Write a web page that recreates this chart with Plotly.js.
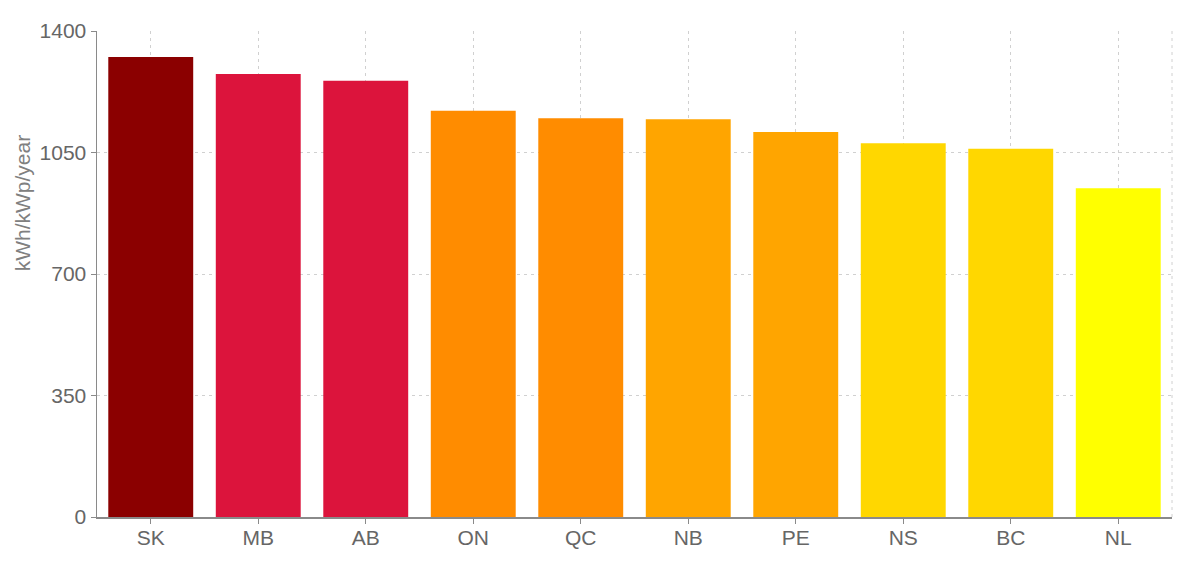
<!DOCTYPE html>
<html>
<head>
<meta charset="utf-8">
<script src="https://cdn.plot.ly/plotly-3.0.1.min.js"></script>
<style>html,body{margin:0;padding:0;background:#fff;}#chart{width:1200px;height:571px;}</style>
</head>
<body>
<div id="chart"></div>
<script>
const provinces = ["SK", "MB", "AB", "ON", "QC", "NB", "PE", "NS", "BC", "NL"];
const yieldValues = [1325, 1276, 1257, 1170, 1149, 1146, 1109, 1077, 1061, 947];
const barColors = ["#8B0000", "#DC143C", "#DC143C", "#FF8C00", "#FF8C00", "#FFA500", "#FFA500", "#FFD700", "#FFD700", "#FFFF00"];
const yTicks = [0, 350, 700, 1050, 1400];
const yTitle = "kWh/kWp/year";

const trace = {
  type: "bar",
  x: provinces,
  y: yieldValues,
  marker: { color: barColors, line: { width: 0 } },
  hoverinfo: "x+y"
};

const gridColor = "#d0d0d0";
const layout = {
  width: 1200,
  height: 571,
  margin: { l: 97, r: 28, t: 31, b: 54 },
  paper_bgcolor: "#fff",
  plot_bgcolor: "#fff",
  bargap: 0.21,
  showlegend: false,
  font: { family: "Liberation Sans, Arial, sans-serif", size: 21, color: "#666" },
  xaxis: {
    type: "category",
    showgrid: true,
    gridcolor: gridColor,
    griddash: "3px,4px",
    gridwidth: 1,
    showline: true,
    linecolor: "#8a8a8a",
    linewidth: 1.5,
    ticks: "outside",
    ticklen: 5,
    tickcolor: "#8a8a8a",
    tickfont: { size: 21, color: "#666" },
    ticklabelstandoff: -4,
    zeroline: false
  },
  yaxis: {
    range: [0, 1400],
    tickvals: yTicks,
    ticktext: yTicks.map(String),
    showgrid: true,
    gridcolor: gridColor,
    griddash: "3px,4px",
    gridwidth: 1,
    showline: true,
    linecolor: "#8a8a8a",
    linewidth: 1.5,
    ticks: "outside",
    ticklen: 5,
    tickcolor: "#8a8a8a",
    tickfont: { size: 21, color: "#666" },
    zeroline: false
  },
  annotations: [{
    text: yTitle,
    xref: "paper", yref: "paper",
    x: -0.0695, y: 0.646,
    xanchor: "center", yanchor: "middle",
    textangle: -90,
    showarrow: false,
    font: { size: 21, color: "#808080" }
  }],
  shapes: [{
    type: "line", xref: "paper", yref: "paper",
    x0: 1, x1: 1, y0: 0, y1: 1,
    line: { color: gridColor, width: 1, dash: "3px,4px" },
    layer: "below"
  }]
};

Plotly.newPlot("chart", [trace], layout, { displayModeBar: false, staticPlot: true });
</script>
</body>
</html>
